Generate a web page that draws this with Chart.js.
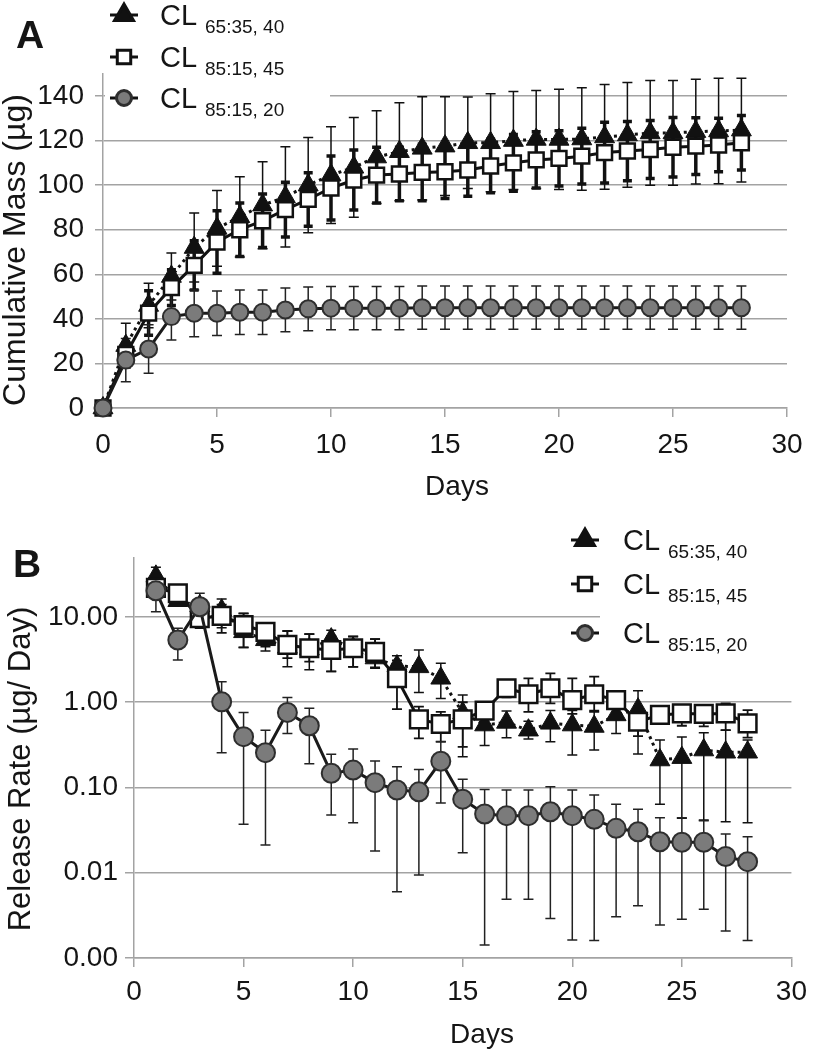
<!DOCTYPE html>
<html>
<head>
<meta charset="utf-8">
<script src="https://cdn.jsdelivr.net/npm/chart.js@4.4.1/dist/chart.umd.min.js"></script>
<style>
  html, body { margin: 0; padding: 0; background: #fff; }
  #wrap { position: relative; width: 815px; height: 1050px; }
  canvas { position: absolute; left: 0; }
</style>
</head>
<body>
<div id="wrap">
  <canvas id="chartA" width="815" height="520" style="top:0px"></canvas>
  <canvas id="chartB" width="815" height="530" style="top:520px"></canvas>
</div>
<script>
// ---- data: panel A, cumulative mass (ug) ----
const daysA = [0,1,2,3,4,5,6,7,8,9,10,11,12,13,14,15,16,17,18,19,20,21,22,23,24,25,26,27,28];
const tri6535Mass = [0,28,46,59,72,80.6,85.8,91,94.7,100,104.5,108,112.6,115,116.5,117.5,119,119,120,120.5,120.5,120.7,121.6,122.5,123.4,123.4,124,124.3,124.7];
const tri6535MassSD = [0,10,10,10.5,15.5,17,18,19.5,22.5,21.4,21.7,22.4,20.8,22,23.2,22.2,20.5,22,22,22,22.5,23,23.5,23.5,23.5,23.5,23.5,23.7,23.3];
const sq8515Mass = [0,24,42.6,54,64,74.5,80,84,89,93.6,98.7,102.3,104.5,105,105.7,106,106.8,108.6,110,111.3,112,113,114.6,115.3,116,117,117.5,118,119];
const sq8515MassSD = [0,5,10,8,11,14,12,12,12.3,12,14.4,13.5,12.5,12,12.7,12,11.8,12,12.7,12.6,12.4,12.5,13.6,13.3,13,13.4,12.7,12,12.2];
const ci8515Mass = [0,21.5,26.5,41,42.5,42.5,43,43,44,44.5,44.8,44.8,44.8,44.8,45,45,45,45,45,45,45,45,45,45,45,45,45,45,45];
const ci8515MassSD = [0,9.7,10.9,10.5,10.5,10,10,10,9.8,9.8,9.7,9.7,9.7,9.7,9.7,9.7,9.7,9.7,9.7,9.7,9.7,9.7,9.7,9.7,9.7,9.7,9.7,9.7,9.7];
const massTicks = [0,20,40,60,80,100,120,140];

// ---- data: panel B, release rate (ug/day), bar ends read as low/high ----
const daysB = [1,2,3,4,5,6,7,8,9,10,11,12,13,14,15,16,17,18,19,20,21,22,23,24,25,26,27,28];
const tri6535Rate = [30,15.5,13.5,12,6.7,5.4,4.4,4.2,5.5,4.3,3.3,2.66,2.6,1.91,0.75,0.54,0.58,0.47,0.566,0.54,0.52,0.71,0.83,0.21,0.224,0.275,0.259,0.259];
const tri6535RateHi = [38.3,17.5,16,16.3,11,7,6.85,6.3,7,5.9,5.5,3.5,4.1,2.86,1.22,0.8,0.79,0.6,0.8,0.8,0.8,0.99,1.36,0.36,0.39,0.44,0.47,0.36];
const tri6535RateLo = [24,13.5,11,7.5,4.4,4,2.6,2.4,2.3,2.6,2.5,1.5,1.3,1.11,0.23,0.31,0.384,0.37,0.345,0.24,0.275,0.43,0.247,0.0635,0.0435,0.0416,0.0397,0.0386];
const sq8515Rate = [22,19,9.7,10.3,8.06,6.7,4.7,4.3,4.1,4.3,3.9,1.91,0.63,0.556,0.63,0.796,1.46,1.24,1.46,1.06,1.24,1.06,0.59,0.71,0.74,0.73,0.74,0.566];
const sq8515RateHi = [26,22,12,14,11,8.5,6.85,6.3,6,5.9,5.5,3.1,0.89,0.77,1.0,0.97,1.82,1.91,2.18,1.91,2.0,1.28,0.8,0.89,0.93,0.93,0.97,0.81];
const sq8515RateLo = [18,16,7.4,6.5,4.4,4.5,3.3,3.0,2.3,2.6,2.57,0.83,0.377,0.345,0.3,0.55,1.14,0.77,0.97,0.73,0.77,0.9,0.4,0.57,0.53,0.52,0.47,0.384];
const ci8515Rate = [20.3,5.37,13.2,1.01,0.395,0.256,0.76,0.53,0.147,0.16,0.114,0.0935,0.089,0.203,0.073,0.0489,0.0467,0.0467,0.052,0.0467,0.0423,0.0332,0.0303,0.0231,0.0228,0.0228,0.0155,0.0135];
const ci8515RateHi = [29,7.36,19,1.74,0.76,0.47,1.14,0.85,0.245,0.283,0.205,0.175,0.163,0.345,0.125,0.095,0.0935,0.0935,0.102,0.0935,0.0817,0.0635,0.0555,0.0443,0.0443,0.0408,0.0284,0.0265];
const ci8515RateLo = [11.5,3.13,7.7,0.256,0.037,0.0212,0.43,0.19,0.0475,0.0386,0.018,0.006,0.0094,0.066,0.0172,0.00142,0.0049,0.0049,0.0029,0.00163,0.0016,0.00305,0.0041,0.00244,0.00284,0.00372,0.00207,0.0016];
const rateTicks = [0.001,0.01,0.1,1,10];

const dayTicks = [0,5,10,15,20,25,30];
const seriesSubs = ['65:35, 40', '85:15, 45', '85:15, 20'];

const FONT = '"Liberation Sans", Arial, sans-serif';
const TXT = '#151515';
const GRID = '#a3a3a3';

const pts = (xs, ys) => xs.map((x, i) => ({ x: x, y: ys[i] }));
const plus = (m, sd) => m.map((v, i) => v + sd[i]);
const minus = (m, sd) => m.map((v, i) => v - sd[i]);

// error bars, legend, titles and panel letter drawn on top of chart.js
function extras(cfg) {
  return {
    id: 'extras',
    beforeDatasetsDraw(chart) {
      const ctx = chart.ctx, xs = chart.scales.x, ys = chart.scales.y;
      cfg.errors.forEach(e => {
        ctx.save();
        ctx.strokeStyle = e.color;
        ctx.lineWidth = e.width;
        ctx.beginPath();
        e.days.forEach((d, i) => {
          if (e.hi[i] === e.lo[i]) return;
          const x = xs.getPixelForValue(d);
          const y1 = ys.getPixelForValue(e.hi[i]);
          const y2 = ys.getPixelForValue(e.lo[i]);
          ctx.moveTo(x, y1); ctx.lineTo(x, y2);
          ctx.moveTo(x - e.cap, y1); ctx.lineTo(x + e.cap, y1);
          ctx.moveTo(x - e.cap, y2); ctx.lineTo(x + e.cap, y2);
        });
        ctx.stroke();
        ctx.restore();
      });
    },
    afterDraw(chart) {
      const ctx = chart.ctx;
      const lg = cfg.legend;
      ctx.save();
      // white legend box hides gridline behind it
      ctx.fillStyle = '#fff';
      ctx.fillRect(lg.box[0], lg.box[1], lg.box[2], lg.box[3]);

      lg.rows.forEach((y, k) => {
        const ds = chart.data.datasets[k];
        ctx.strokeStyle = '#111';
        ctx.lineWidth = 3;
        ctx.setLineDash([]);
        ctx.beginPath();
        ctx.moveTo(lg.cx - 14, y); ctx.lineTo(lg.cx + 14, y);
        ctx.stroke();
        ctx.fillStyle = ds.pointBackgroundColor;
        ctx.strokeStyle = ds.pointBorderColor;
        Chart.helpers.drawPoint(ctx, {
          pointStyle: ds.pointStyle, radius: lg.radius[k],
          borderWidth: ds.pointBorderWidth, rotation: 0
        }, lg.cx, y);
        ctx.fillStyle = TXT;
        ctx.textAlign = 'left';
        ctx.textBaseline = 'alphabetic';
        ctx.font = '29px ' + FONT;
        ctx.fillText('CL', lg.tx, y + 10);
        ctx.font = '19px ' + FONT;
        ctx.fillText(seriesSubs[k], lg.tx + 45, y + 18);
      });

      // panel letter
      ctx.font = 'bold 39px ' + FONT;
      ctx.fillText(cfg.letter[0], cfg.letter[1], cfg.letter[2]);

      // axis titles
      ctx.font = '28px ' + FONT;
      ctx.textAlign = 'center';
      ctx.fillText('Days', cfg.xTitle[0], cfg.xTitle[1]);
      ctx.translate(cfg.yTitle[1], cfg.yTitle[2]);
      ctx.rotate(-Math.PI / 2);
      ctx.font = cfg.yTitle[3] + 'px ' + FONT;
      ctx.fillText(cfg.yTitle[0], 0, 0);
      ctx.restore();
    }
  };
}

function axisX(height, pad) {
  return {
    type: 'linear', min: 0, max: 30,
    afterBuildTicks: s => { s.ticks = dayTicks.map(v => ({ value: v })); },
    ticks: { color: TXT, font: { family: FONT, size: 28 }, padding: pad, maxRotation: 0 },
    grid: { drawOnChartArea: false, color: GRID, lineWidth: 1.5, tickLength: 9 },
    border: { color: GRID, width: 1.5 },
    afterFit: s => { s.height = height; }
  };
}

function seriesStyles(sizes) {
  return [
    { borderColor: '#111', borderWidth: 3, borderDash: [3, 4], pointStyle: 'triangle',
      pointRadius: sizes[0], pointBackgroundColor: '#111', pointBorderColor: '#111', pointBorderWidth: 1, order: 3 },
    { borderColor: '#111', borderWidth: 3, pointStyle: 'rect',
      pointRadius: sizes[1], pointBackgroundColor: '#fff', pointBorderColor: '#111', pointBorderWidth: 2.5, order: 2 },
    { borderColor: '#1a1a1a', borderWidth: 3, pointStyle: 'circle',
      pointRadius: sizes[2], pointBackgroundColor: '#7b7b7b', pointBorderColor: '#2e2e2e', pointBorderWidth: 2, order: 1 }
  ];
}

const common = {
  responsive: false, animation: false, events: [],
  plugins: { legend: { display: false }, tooltip: { enabled: false } }
};

// ---- panel A ----
const stA = seriesStyles([11.5, 10.5, 8.5]);
new Chart(document.getElementById('chartA'), {
  type: 'line',
  data: {
    datasets: [
      Object.assign({ label: 'CL 65:35, 40', data: pts(daysA, tri6535Mass), clip: false, tension: 0 }, stA[0]),
      Object.assign({ label: 'CL 85:15, 45', data: pts(daysA, sq8515Mass), clip: false, tension: 0 }, stA[1]),
      Object.assign({ label: 'CL 85:15, 20', data: pts(daysA, ci8515Mass), clip: false, tension: 0 }, stA[2])
    ]
  },
  options: Object.assign({}, common, {
    layout: { padding: { left: 0, right: 28, top: 73.7, bottom: 0 } },
    scales: {
      x: axisX(112, 11),
      y: {
        min: 0, max: 150,
        afterBuildTicks: s => { s.ticks = massTicks.map(v => ({ value: v })); },
        ticks: { color: TXT, font: { family: FONT, size: 28 }, padding: 11 },
        grid: { color: GRID, lineWidth: 1.5, tickLength: 8 },
        border: { color: GRID, width: 1.5 },
        afterFit: s => { s.width = 103; }
      }
    }
  }),
  plugins: [extras({
    errors: [
      { days: daysA, hi: plus(tri6535Mass, tri6535MassSD), lo: minus(tri6535Mass, tri6535MassSD), color: '#111', width: 1.5, cap: 5 },
      { days: daysA, hi: plus(sq8515Mass, sq8515MassSD), lo: minus(sq8515Mass, sq8515MassSD), color: '#111', width: 3.5, cap: 4.5 },
      { days: daysA, hi: plus(ci8515Mass, ci8515MassSD), lo: minus(ci8515Mass, ci8515MassSD), color: '#222', width: 1.5, cap: 5 }
    ],
    legend: { box: [105, 0, 225, 112], rows: [15, 57, 98], cx: 124, tx: 160, radius: [11, 9.5, 7.5] },
    letter: ['A', 16, 48],
    xTitle: [457, 495],
    yTitle: ['Cumulative Mass (µg)', 25, 250, 32]
  })]
});

// ---- panel B ----
const stB = seriesStyles([11.5, 12.5, 9.5]);
new Chart(document.getElementById('chartB'), {
  type: 'line',
  data: {
    datasets: [
      Object.assign({ label: 'CL 65:35, 40', data: pts(daysB, tri6535Rate), clip: false, tension: 0 }, stB[0]),
      Object.assign({ label: 'CL 85:15, 45', data: pts(daysB, sq8515Rate), clip: false, tension: 0 }, stB[1]),
      Object.assign({ label: 'CL 85:15, 20', data: pts(daysB, ci8515Rate), clip: false, tension: 0 }, stB[2])
    ]
  },
  options: Object.assign({}, common, {
    layout: { padding: { left: 0, right: 15, top: 37.4, bottom: 0 } },
    scales: {
      x: axisX(92, 8),
      y: {
        type: 'logarithmic', min: 0.001, max: 50,
        afterBuildTicks: s => { s.ticks = rateTicks.map(v => ({ value: v })); },
        ticks: { color: TXT, font: { family: FONT, size: 28 }, padding: 7, callback: v => Number(v).toFixed(2) },
        grid: { color: GRID, lineWidth: 1.5, tickLength: 9 },
        border: { color: GRID, width: 1.5 },
        afterFit: s => { s.width = 134; }
      }
    }
  }),
  plugins: [extras({
    errors: [
      { days: daysB, hi: tri6535RateHi, lo: tri6535RateLo, color: '#111', width: 1.5, cap: 5 },
      { days: daysB, hi: sq8515RateHi, lo: sq8515RateLo, color: '#111', width: 1.8, cap: 5 },
      { days: daysB, hi: ci8515RateHi, lo: ci8515RateLo, color: '#222', width: 1.5, cap: 5 }
    ],
    legend: { box: [600, 0, 215, 140], rows: [20, 64, 113], cx: 585, tx: 623, radius: [11, 9.5, 7.5] },
    letter: ['B', 13, 57],
    xTitle: [482, 523],
    yTitle: ['Release Rate (µg/ Day)', 30, 249, 31]
  })]
});
</script>
</body>
</html>
